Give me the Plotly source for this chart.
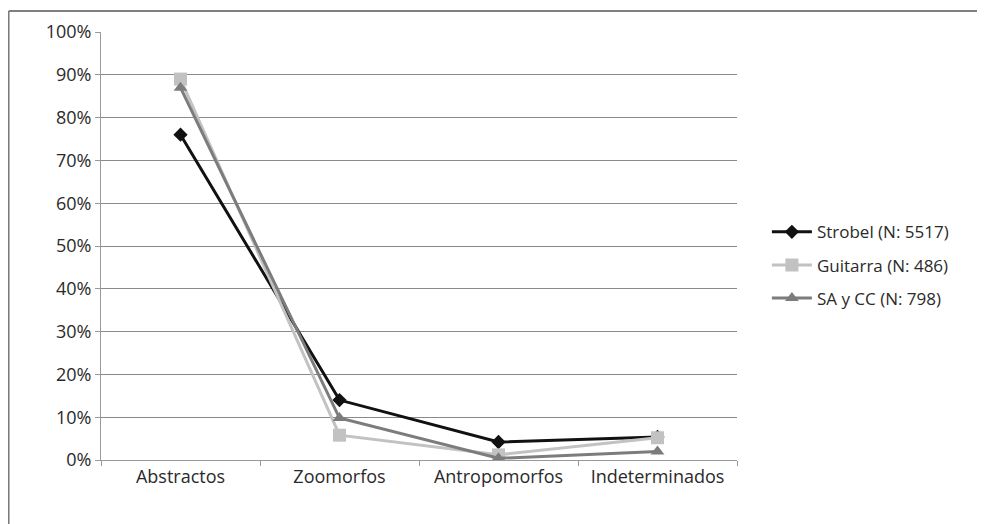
import plotly.graph_objects as go

categorias = ["Abstractos", "Zoomorfos", "Antropomorfos", "Indeterminados"]
strobel = [76, 14, 4.2, 5.4]
guitarra = [89, 5.8, 1.2, 5.2]
sa_cc = [87, 9.8, 0.4, 2.0]

series = [
    ("Strobel (N: 5517)", strobel, "#111111", "diamond", 11),
    ("Guitarra (N: 486)", guitarra, "#c2c2c2", "square", 13),
    ("SA y CC (N: 798)", sa_cc, "#7c7c7c", "triangle-up", 12),
]

fig = go.Figure()
for nombre, valores, color, simbolo, tam in series:
    fig.add_trace(go.Scatter(
        x=categorias, y=valores, name=nombre, mode="lines+markers",
        legendgroup=nombre,
        line=dict(color=color, width=3),
        marker=dict(symbol=simbolo, size=tam, color=color),
    ))

# marco del grafico (solo se ven los bordes superior e izquierdo)
fig.add_shape(type="line", xref="paper", yref="paper", x0=-0.145, x1=1.4, y0=1.049, y1=1.049,
              line=dict(color="#555555", width=1.5))
fig.add_shape(type="line", xref="paper", yref="paper", x0=-0.145, x1=-0.145, y0=1.049, y1=-0.16,
              line=dict(color="#777777", width=1.5))

fig.update_layout(
    width=977, height=516,
    margin=dict(l=93, r=248, t=24, b=64),
    paper_bgcolor="white", plot_bgcolor="white",
    font=dict(family="Open Sans", size=18, color="#2a2a2a"),
    showlegend=True,
    legend=dict(x=1.047, y=0.455, xanchor="left", yanchor="middle",
                font=dict(size=17, color="#2a2a2a"), tracegroupgap=8,
                itemwidth=40),
    xaxis=dict(showline=True, linecolor="#999999", ticks="outside", tickson="boundaries",
               ticklen=5, tickcolor="#999999", showgrid=False,
               tickfont=dict(size=18, color="#2a2a2a"), range=[-0.5, 3.5]),
    yaxis=dict(range=[0, 100], dtick=10, ticksuffix="%", showline=True, linecolor="#999999",
               ticks="outside", ticklen=5, tickcolor="#999999",
               gridcolor="#8a8a8a", gridwidth=1, zeroline=False,
               tickfont=dict(size=18, color="#2a2a2a")),
)

fig.write_html("out.html")
